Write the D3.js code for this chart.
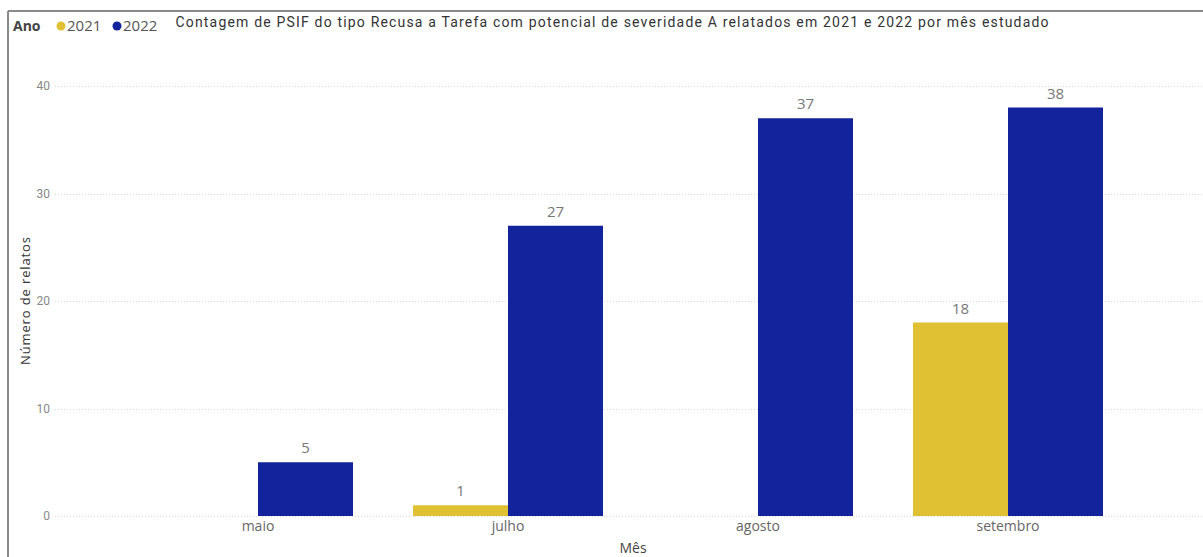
<!DOCTYPE html>
<html>
<head>
<meta charset="utf-8">
<script src="https://cdn.jsdelivr.net/npm/d3@7"></script>
<style>
  html, body { margin: 0; padding: 0; background: #fff; }
  svg { display: block; }
</style>
</head>
<body>
<svg id="chart" width="1203" height="557"></svg>
<script>
// Months studied and PSIF counts per year
const months = ["maio", "julho", "agosto", "setembro"];
const years = ["2021", "2022"];
const values2021 = [null, 1, null, 18];
const values2022 = [5, 27, 37, 38];
const yTicks = [0, 10, 20, 30, 40];
const yearColors = ["#DFC133", "#13239B"];

const font = "'Open Sans', 'Noto Sans', sans-serif";
const titleFont = "Roboto, 'Open Sans', sans-serif";
const svg = d3.select("#chart");
const W = 1203, H = 557;

// frame lines (top and left)
svg.append("line").attr("x1", 8).attr("x2", W).attr("y1", 11).attr("y2", 11)
  .attr("stroke", "#8a8a8a").attr("stroke-width", 2);
svg.append("line").attr("x1", 8).attr("x2", 8).attr("y1", 11).attr("y2", H)
  .attr("stroke", "#8a8a8a").attr("stroke-width", 2);

const x = d3.scaleBand().domain(months).range([133, 1133])
  .paddingInner(0.24).paddingOuter(0.12);
const xs = d3.scaleBand().domain(years).range([0, x.bandwidth()]);
const y = d3.scaleLinear().domain([0, 40]).range([516, 86]);

// gridlines
svg.append("g").selectAll("line").data(yTicks).join("line")
  .attr("x1", 55).attr("x2", W)
  .attr("y1", d => Math.round(y(d)) + 0.5).attr("y2", d => Math.round(y(d)) + 0.5)
  .attr("stroke", "#d9d9d9").attr("stroke-width", 1).attr("stroke-dasharray", "1,2");

// y axis labels
const yAxis = d3.axisLeft(y).tickValues(yTicks).tickSize(0).tickPadding(0);
const gy = svg.append("g").attr("transform", "translate(50,0)").call(yAxis);
gy.select(".domain").remove();
gy.selectAll("text").attr("font-family", titleFont).attr("font-size", 12).attr("fill", "#888");

// x axis labels
const xAxis = d3.axisBottom(x).tickSize(0).tickPadding(0);
const gx = svg.append("g").attr("transform", "translate(0,521)").call(xAxis);
gx.select(".domain").remove();
gx.selectAll("text").attr("font-family", font).attr("font-size", 14).attr("fill", "#666");

// bars
const rows = months.map((m, i) => ({ month: m, vals: [values2021[i], values2022[i]] }));
const groups = svg.append("g").selectAll("g").data(rows).join("g")
  .attr("transform", d => `translate(${x(d.month)},0)`);
const cells = groups.selectAll("g").data(d => d.vals.map((v, j) => ({ year: years[j], v, j }))
  .filter(e => e.v !== null)).join("g");
cells.append("rect")
  .attr("x", d => xs(d.year))
  .attr("width", xs.bandwidth())
  .attr("y", d => y(d.v))
  .attr("height", d => y(0) - y(d.v))
  .attr("fill", d => yearColors[d.j]);
cells.append("text")
  .attr("x", d => xs(d.year) + xs.bandwidth() / 2)
  .attr("y", d => y(d.v) - 9)
  .attr("text-anchor", "middle")
  .attr("font-family", font).attr("font-size", 15).attr("fill", "#777")
  .text(d => d.v);

// title
svg.append("text").attr("x", 612).attr("y", 27).attr("text-anchor", "middle")
  .attr("font-family", titleFont).attr("font-size", 14).attr("fill", "#333")
  .attr("textLength", 873).attr("lengthAdjust", "spacing")
  .text("Contagem de PSIF do tipo Recusa a Tarefa com potencial de severidade A relatados em 2021 e 2022 por mês estudado");

// legend
const lg = svg.append("g");
lg.append("text").attr("x", 13).attr("y", 31).attr("font-family", font)
  .attr("font-size", 14).attr("font-weight", "bold").attr("fill", "#444").text("Ano");
const legendX = [56, 112];
years.forEach((yr, i) => {
  lg.append("circle").attr("cx", legendX[i] + 5).attr("cy", 26).attr("r", 4.5).attr("fill", yearColors[i]);
  lg.append("text").attr("x", legendX[i] + 11).attr("y", 31).attr("font-family", font)
    .attr("font-size", 15).attr("fill", "#555").text(yr);
});

// axis titles
svg.append("text").attr("transform", "translate(30,301) rotate(-90)").attr("text-anchor", "middle")
  .attr("font-family", font).attr("font-size", 13).attr("fill", "#333")
  .attr("textLength", 128).attr("lengthAdjust", "spacing").text("Número de relatos");
svg.append("text").attr("x", 633).attr("y", 553).attr("text-anchor", "middle")
  .attr("font-family", font).attr("font-size", 14).attr("fill", "#444").text("Mês");
</script>
</body>
</html>
